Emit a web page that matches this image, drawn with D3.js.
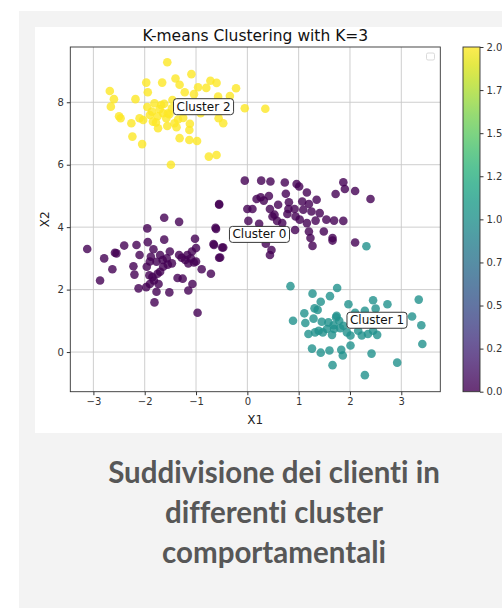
<!DOCTYPE html>
<html>
<head>
<meta charset="utf-8">
<script src="https://cdn.jsdelivr.net/npm/d3@7"></script>
<style>
  body { margin: 0; background: #fff; }
  svg { display: block; }
  .caption { font-variant-ligatures: none; font-feature-settings: "liga" 0, "clig" 0; }
</style>
</head>
<body>
<div id="chart"></div>
<script>
// Cluster 2 (yellow)
var cluster2 = [
  [-1.56, 9.28], [-1.09, 8.90], [-1.97, 8.63], [-1.66, 8.63], [-1.40, 8.76], [-1.32, 8.56],
  [-0.72, 8.69], [-0.60, 8.62], [-0.96, 8.48], [-0.80, 8.46], [-0.22, 8.45], [-1.94, 8.32],
  [-2.68, 8.36], [-2.60, 8.10], [-2.66, 7.86], [-2.18, 8.10], [-1.22, 8.32], [-1.04, 8.26],
  [-0.34, 8.20], [-0.57, 8.18], [-1.81, 7.97], [-1.68, 7.91], [-1.86, 7.70], [-1.71, 7.78],
  [-1.55, 7.65], [-1.47, 7.81], [-1.58, 7.49], [-1.42, 7.33], [-2.47, 7.49], [-2.26, 7.33],
  [-2.10, 7.49], [-2.03, 7.43], [-1.84, 7.38], [-1.74, 7.17], [-1.56, 7.24], [-1.38, 7.20],
  [-1.12, 7.31], [-1.13, 7.11], [-1.32, 6.85], [-1.13, 6.79], [-0.98, 6.76], [-2.24, 6.90],
  [-2.05, 6.66], [-1.49, 6.00], [-0.75, 6.26], [-0.60, 6.31], [-0.56, 7.49], [-0.47, 7.33],
  [-0.05, 7.81], [0.35, 7.79], [-0.91, 7.65], [-1.46, 8.07], [-1.90, 7.59], [-1.64, 7.65],
  [-1.75, 7.55], [-1.62, 7.95], [-1.52, 7.62], [-1.78, 7.35], [-1.95, 7.85], [-1.35, 7.45],
  [-1.25, 7.50], [-1.10, 7.90], [-0.85, 7.85], [-2.50, 7.55]
];

// Cluster 0 (purple), lower-left group and middle group
var cluster0 = [
  [-3.12, 3.30], [-2.87, 2.29], [-2.79, 3.00], [-2.63, 2.65], [-2.58, 3.18], [-2.55, 3.16],
  [-2.40, 3.41], [-2.16, 3.43], [-2.10, 3.11], [-2.22, 2.75], [-2.20, 2.48], [-1.95, 3.96],
  [-1.62, 4.30], [-1.33, 4.17], [-1.94, 3.52], [-1.83, 3.29], [-1.62, 3.60], [-1.70, 3.11],
  [-1.88, 3.05], [-1.77, 2.89], [-1.57, 3.00], [-1.51, 3.22], [-1.96, 2.73], [-1.91, 2.46],
  [-1.75, 2.51], [-1.64, 2.73], [-1.90, 2.18], [-1.73, 2.18], [-2.12, 2.04], [-1.97, 2.08],
  [-1.77, 1.93], [-1.52, 1.91], [-1.81, 1.59], [-1.36, 2.37], [-1.26, 2.35], [-1.15, 1.97],
  [-1.07, 2.18], [-1.28, 3.02], [-1.17, 3.11], [-1.08, 3.22], [-1.00, 3.33], [-1.02, 3.63],
  [-1.15, 2.84], [-1.04, 2.87], [-0.89, 2.65], [-0.71, 2.51], [-0.97, 1.26], [-0.65, 3.43],
  [-0.49, 3.35], [-0.55, 3.02], [-0.62, 3.98], [-0.55, 4.72], [-1.33, 3.11], [-1.21, 2.95],
  [-1.47, 2.84], [-1.70, 2.57], [-1.82, 2.29], [-1.65, 2.95], [-1.55, 2.80], [-1.85, 2.40],
  [-1.10, 3.00], [-1.00, 2.90], [-1.90, 2.90],
  [-0.05, 5.49], [0.27, 5.49], [0.45, 5.46], [0.73, 5.43], [0.96, 5.38], [1.01, 5.30],
  [1.16, 5.11], [1.87, 5.44], [1.90, 5.22], [1.72, 5.06], [2.10, 5.16], [2.40, 4.90],
  [-0.55, 4.74], [0.18, 4.90], [0.26, 4.96], [0.32, 4.85], [0.42, 5.00], [0.75, 5.07],
  [0.81, 4.80], [0.60, 4.72], [0.44, 4.58], [0.00, 4.58], [0.10, 4.58], [0.53, 4.40],
  [0.78, 4.42], [0.92, 4.58], [1.07, 4.82], [1.20, 4.74], [1.35, 4.88], [1.09, 4.56],
  [1.25, 4.50], [1.41, 4.45], [1.54, 4.24], [1.69, 4.21], [1.87, 4.20], [0.02, 4.20],
  [0.23, 4.11], [0.58, 4.20], [0.68, 4.13], [1.02, 4.24], [1.16, 4.13], [1.33, 4.21],
  [0.93, 3.91], [1.20, 3.86], [1.23, 3.65], [1.49, 3.86], [1.66, 3.65], [1.66, 3.57],
  [1.27, 3.40], [2.10, 3.51], [-0.61, 3.94], [-0.66, 3.46], [-0.47, 3.35], [-0.53, 3.03],
  [0.36, 3.47], [0.47, 3.27], [0.44, 3.11], [0.80, 4.58], [0.94, 4.34], [0.49, 4.34]
];

// Cluster 1 (teal)
var cluster1 = [
  [2.32, 3.39], [0.84, 2.11], [1.75, 2.05], [1.27, 1.87], [1.61, 1.79], [1.43, 1.61],
  [1.31, 1.40], [1.37, 1.35], [1.11, 1.24], [1.97, 1.53], [2.45, 1.66], [2.73, 1.53],
  [3.34, 1.68], [0.89, 1.00], [1.13, 0.93], [1.29, 1.07], [1.74, 1.16], [1.79, 1.00],
  [1.68, 0.86], [1.55, 0.74], [1.47, 0.63], [1.32, 0.63], [1.19, 0.58], [1.65, 0.55],
  [1.87, 0.84], [2.01, 0.53], [2.01, 0.21], [2.35, 0.58], [2.53, 0.55], [2.45, 0.68],
  [2.16, 0.68], [2.29, 1.32], [2.50, 1.39], [3.21, 1.14], [3.39, 0.86], [3.41, 0.26],
  [1.26, 0.11], [1.43, -0.02], [1.60, 0.05], [1.83, 0.07], [1.86, -0.11], [2.42, -0.05],
  [1.66, -0.42], [2.92, -0.34], [2.29, -0.74], [1.73, 1.11], [1.69, 0.74], [1.58, 0.95],
  [1.94, 0.63], [1.39, 0.68], [2.10, 1.26], [1.45, 0.97], [1.81, 0.76], [2.23, 0.53]
];

// Label anchor points (cluster centres)
var labels = ["Cluster 0", "Cluster 1", "Cluster 2"];
var centres = [[-0.29, 3.64], [2.00, 0.89], [-1.38, 7.73]];

var xTicks = [-3, -2, -1, 0, 1, 2, 3];
var yTicks = [0, 2, 4, 6, 8];
var cbTicks = [0, 0.25, 0.5, 0.75, 1.0, 1.25, 1.5, 1.75, 2.0];

var caption = ["Suddivisione dei clienti in", "differenti cluster", "comportamentali"];

var width = 502, height = 608,
    plot = {left: 70.3, right: 440.3, top: 47, bottom: 391.7},
    cb = {left: 463, right: 480};

var svg = d3.select("#chart").append("svg")
    .attr("width", width)
    .attr("height", height)
    .style("font-family", "'DejaVu Sans', sans-serif");

// Backgrounds
svg.append("rect").attr("x", 19).attr("y", 11).attr("width", width - 19).attr("height", height - 11)
    .attr("fill", "#f3f3f3");
svg.append("rect").attr("x", 35).attr("y", 27).attr("width", width - 35).attr("height", 433 - 27)
    .attr("fill", "#ffffff");

var x = d3.scaleLinear().domain([-3.45, 3.76]).range([plot.left, plot.right]),
    y = d3.scaleLinear().domain([-1.27, 9.77]).range([plot.bottom, plot.top]),
    color = d3.scaleSequential(d3.interpolateViridis).domain([0, 2]),
    cbScale = d3.scaleLinear().domain([0, 2]).range([plot.bottom, plot.top]);

// Grid
svg.append("g").selectAll("line").data(xTicks).join("line")
    .attr("x1", function (d) { return x(d); }).attr("x2", function (d) { return x(d); })
    .attr("y1", plot.top).attr("y2", plot.bottom)
    .attr("stroke", "#c8c8c8").attr("stroke-width", 0.9);
svg.append("g").selectAll("line").data(yTicks).join("line")
    .attr("y1", function (d) { return y(d); }).attr("y2", function (d) { return y(d); })
    .attr("x1", plot.left).attr("x2", plot.right)
    .attr("stroke", "#c8c8c8").attr("stroke-width", 0.9);

// Points
var points = [];
cluster0.forEach(function (p) { points.push({x: p[0], y: p[1], c: 0}); });
cluster1.forEach(function (p) { points.push({x: p[0], y: p[1], c: 1}); });
cluster2.forEach(function (p) { points.push({x: p[0], y: p[1], c: 2}); });

svg.append("g").selectAll("circle").data(points).join("circle")
    .attr("cx", function (d) { return x(d.x); })
    .attr("cy", function (d) { return y(d.y); })
    .attr("r", 4.3)
    .attr("fill", function (d) { return color(d.c); })
    .attr("fill-opacity", 0.8);

// Cluster labels
labels.forEach(function (name, i) {
    var g = svg.append("g");
    var t = g.append("text")
        .attr("x", x(centres[i][0]))
        .attr("y", y(centres[i][1]))
        .attr("font-size", 12)
        .attr("fill", "#111")
        .text(name);
    var b = t.node().getBBox();
    g.insert("rect", "text")
        .attr("x", b.x - 3).attr("y", b.y - 1)
        .attr("width", b.width + 6).attr("height", b.height + 2)
        .attr("rx", 3)
        .attr("fill", "#fff")
        .attr("stroke", "#222")
        .attr("stroke-width", 0.9);
});

// Empty legend box
svg.append("rect").attr("x", 426.5).attr("y", 53).attr("width", 8).attr("height", 7)
    .attr("rx", 1.5).attr("fill", "#fff").attr("stroke", "#d0d0d0").attr("stroke-width", 0.8);

// Axes
var xAxis = svg.append("g")
    .attr("transform", "translate(0," + plot.bottom + ")")
    .call(d3.axisBottom(x).tickValues(xTicks).tickSize(3.5).tickPadding(3)
        .tickFormat(function (d) { return d < 0 ? "\u2212" + Math.abs(d) : d; }));
var yAxis = svg.append("g")
    .attr("transform", "translate(" + plot.left + ",0)")
    .call(d3.axisLeft(y).tickValues(yTicks).tickSize(3.5).tickPadding(3));
[xAxis, yAxis].forEach(function (a) {
    a.select(".domain").remove();
    a.selectAll("line").attr("stroke", "#333");
    a.selectAll("text").attr("font-size", 10).attr("fill", "#333")
        .style("font-family", "'DejaVu Sans', sans-serif");
});

// Frame
svg.append("rect")
    .attr("x", plot.left).attr("y", plot.top)
    .attr("width", plot.right - plot.left).attr("height", plot.bottom - plot.top)
    .attr("fill", "none").attr("stroke", "#333").attr("stroke-width", 0.9);

// Titles
svg.append("text").attr("x", (plot.left + plot.right) / 2).attr("y", 41)
    .attr("text-anchor", "middle").attr("font-size", 15.5).attr("fill", "#111")
    .text("K-means Clustering with K=3");
svg.append("text").attr("x", (plot.left + plot.right) / 2).attr("y", 424)
    .attr("text-anchor", "middle").attr("font-size", 12).attr("fill", "#222")
    .text("X1");
svg.append("text").attr("transform", "translate(49," + ((plot.top + plot.bottom) / 2) + ") rotate(-90)")
    .attr("text-anchor", "middle").attr("font-size", 12).attr("fill", "#222")
    .text("X2");

// Colorbar
var defs = svg.append("defs");
var grad = defs.append("linearGradient").attr("id", "viridis")
    .attr("x1", 0).attr("y1", 1).attr("x2", 0).attr("y2", 0);
d3.range(0, 1.0001, 0.05).forEach(function (t) {
    grad.append("stop").attr("offset", t).attr("stop-color", d3.interpolateViridis(t));
});
svg.append("rect")
    .attr("x", cb.left).attr("y", plot.top)
    .attr("width", cb.right - cb.left).attr("height", plot.bottom - plot.top)
    .attr("fill", "url(#viridis)").attr("fill-opacity", 0.8);
svg.append("rect")
    .attr("x", cb.left).attr("y", plot.top)
    .attr("width", cb.right - cb.left).attr("height", plot.bottom - plot.top)
    .attr("fill", "none").attr("stroke", "#333").attr("stroke-width", 0.9);
var cbAxis = svg.append("g")
    .attr("transform", "translate(" + cb.right + ",0)")
    .call(d3.axisRight(cbScale).tickValues(cbTicks).tickSize(3.5).tickPadding(3)
        .tickFormat(d3.format(".2f")));
cbAxis.select(".domain").remove();
cbAxis.selectAll("line").attr("stroke", "#333");
cbAxis.selectAll("text").attr("font-size", 10).attr("fill", "#333")
    .style("font-family", "'DejaVu Sans', sans-serif");

// Caption
svg.append("g").attr("class", "caption").selectAll("text").data(caption).join("text")
    .attr("x", 274)
    .attr("y", function (d, i) { return 483 + i * 40; })
    .attr("text-anchor", "middle")
    .attr("font-family", "Lato, sans-serif")
    .attr("font-weight", 700)
    .attr("font-size", 29.5)
    .attr("fill", "#575757")
    .text(function (d) { return d; });
</script>
</body>
</html>
